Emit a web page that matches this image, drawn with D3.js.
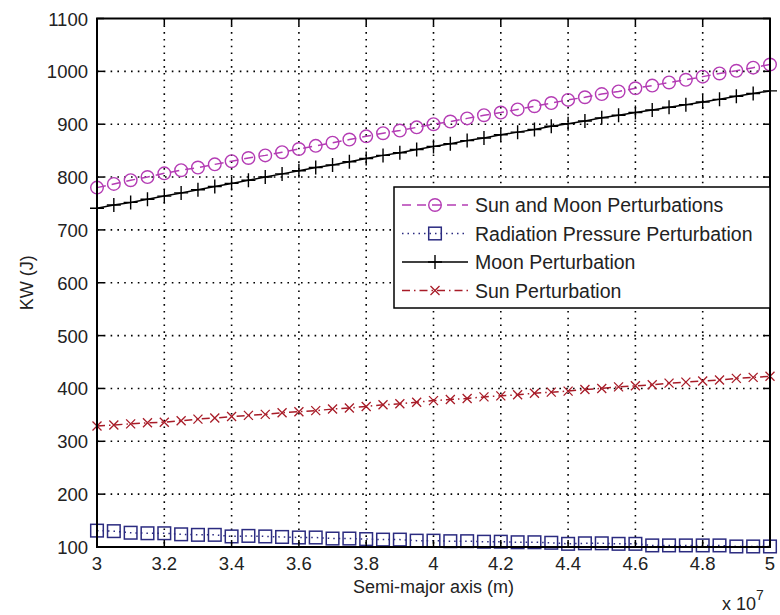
<!DOCTYPE html>
<html>
<head>
<meta charset="utf-8">
<script src="https://cdn.jsdelivr.net/npm/d3@7"></script>
<style>
    body { margin: 0; background: #fff; }
    text { font-family: "Liberation Sans", Arial, sans-serif; fill: #222; }
    .grid line { stroke: #000; stroke-width: 1.6; stroke-dasharray: 1.6,5.2; }
</style>
</head>
<body>
<svg id="chart" width="780" height="615"></svg>
<script>
// semi-major axis, in units of 1e7 m
const semiMajor = [3.00, 3.05, 3.10, 3.15, 3.20, 3.25, 3.30, 3.35, 3.40, 3.45,
                   3.50, 3.55, 3.60, 3.65, 3.70, 3.75, 3.80, 3.85, 3.90, 3.95,
                   4.00, 4.05, 4.10, 4.15, 4.20, 4.25, 4.30, 4.35, 4.40, 4.45,
                   4.50, 4.55, 4.60, 4.65, 4.70, 4.75, 4.80, 4.85, 4.90, 4.95, 5.00];

const sunMoon = [780, 787, 794, 800, 807, 813, 818, 824, 830, 836,
                 841, 847, 853, 859, 865, 871, 877, 883, 888, 894,
                 900, 905, 911, 917, 922, 928, 934, 940, 946, 951,
                 957, 962, 968, 973, 979, 984, 990, 996, 1001, 1007, 1013];

const radiation = [131, 130, 127, 126, 126, 124, 123, 123, 120, 121,
                   120, 119, 118, 118, 116, 116, 115, 114, 114, 112,
                   112, 111, 111, 110, 110, 109, 109, 108, 106, 107,
                   107, 106, 106, 103, 103, 103, 103, 103, 101, 101, 101];

const moon = [741, 747, 752, 758, 764, 770, 776, 782, 788, 794,
              800, 806, 812, 818, 823, 829, 835, 841, 846, 852,
              858, 863, 869, 874, 880, 885, 890, 896, 901, 906,
              912, 917, 922, 927, 932, 937, 942, 947, 953, 958, 963];

const sun = [329, 331, 333, 335, 336, 339, 342, 344, 347, 349,
             351, 354, 356, 358, 361, 363, 366, 369, 371, 374,
             377, 379, 381, 384, 386, 388, 391, 393, 395, 398,
             400, 403, 405, 407, 410, 412, 414, 416, 419, 421, 423];

const xTicks = [3, 3.2, 3.4, 3.6, 3.8, 4, 4.2, 4.4, 4.6, 4.8, 5];
const yTicks = [100, 200, 300, 400, 500, 600, 700, 800, 900, 1000, 1100];

const seriesNames = ["Sun and Moon Perturbations", "Radiation Pressure Perturbation",
                     "Moon Perturbation", "Sun Perturbation"];

/////////////////////////////////////////////////////////////////////

var svg = d3.select("#chart");
var pLeft = 97, pRight = 770, pTop = 18.5, pBottom = 547;

var xScale = d3.scaleLinear([3, 5], [pLeft, pRight]);
var yScale = d3.scaleLinear([100, 1100], [pBottom, pTop]);

var series = [
    {name: seriesNames[0], vals: sunMoon,   color: "#b43cb4", dash: "9,6",        marker: "circle"},
    {name: seriesNames[1], vals: radiation, color: "#2b2b80", dash: "1.5,4",      marker: "square"},
    {name: seriesNames[2], vals: moon,      color: "#000000", dash: null,         marker: "plus"},
    {name: seriesNames[3], vals: sun,       color: "#a81c28", dash: "8,4,1.5,4",  marker: "x"}
];

// grid
var grid = svg.append("g").attr("class", "grid");
xTicks.slice(1, -1).forEach(function(t) {
    grid.append("line")
        .attr("x1", xScale(t)).attr("x2", xScale(t))
        .attr("y1", pTop).attr("y2", pBottom);
});
yTicks.slice(1, -1).forEach(function(t) {
    grid.append("line")
        .attr("x1", pLeft).attr("x2", pRight)
        .attr("y1", yScale(t)).attr("y2", yScale(t));
});

function drawMarker(g, type, x, y, color) {
    if (type == "circle") {
        g.append("circle").attr("cx", x).attr("cy", y).attr("r", 6.3)
            .attr("fill", "none").attr("stroke", color).attr("stroke-width", 1.4);
    } else if (type == "square") {
        g.append("rect").attr("x", x-6.3).attr("y", y-6.3)
            .attr("width", 12.6).attr("height", 12.6)
            .attr("fill", "none").attr("stroke", color).attr("stroke-width", 1.5);
    } else if (type == "plus") {
        g.append("path").attr("d", "M" + (x-7) + "," + y + "H" + (x+7) + "M" + x + "," + (y-7) + "V" + (y+7))
            .attr("stroke", color).attr("stroke-width", 1.4);
    } else {
        var s = 4.5;
        g.append("path").attr("d", "M" + (x-s) + "," + (y-s) + "L" + (x+s) + "," + (y+s) +
                                   "M" + (x-s) + "," + (y+s) + "L" + (x+s) + "," + (y-s))
            .attr("stroke", color).attr("stroke-width", 1.3);
    }
}

var line = d3.line()
    .x((d, i) => xScale(semiMajor[i]))
    .y(d => yScale(d));

series.forEach(function(s) {
    var g = svg.append("g");
    g.append("path")
        .attr("d", line(s.vals))
        .attr("fill", "none")
        .attr("stroke", s.color)
        .attr("stroke-width", 1.5)
        .attr("stroke-dasharray", s.dash);
    s.vals.forEach(function(v, i) {
        drawMarker(g, s.marker, xScale(semiMajor[i]), yScale(v), s.color);
    });
});

// axes box with inward ticks
var tickLen = 7;
var ax = svg.append("g");
ax.append("rect")
    .attr("x", pLeft).attr("y", pTop)
    .attr("width", pRight-pLeft).attr("height", pBottom-pTop)
    .attr("fill", "none").attr("stroke", "#000").attr("stroke-width", 2);
xTicks.forEach(function(t) {
    ax.append("line").attr("x1", xScale(t)).attr("x2", xScale(t))
        .attr("y1", pBottom).attr("y2", pBottom-tickLen).attr("stroke", "#000").attr("stroke-width", 1.5);
    ax.append("line").attr("x1", xScale(t)).attr("x2", xScale(t))
        .attr("y1", pTop).attr("y2", pTop+tickLen).attr("stroke", "#000").attr("stroke-width", 1.5);
    ax.append("text")
        .text(t)
        .attr("x", xScale(t)).attr("y", pBottom + 23)
        .attr("text-anchor", "middle")
        .attr("font-size", 18.5);
});
yTicks.forEach(function(t) {
    ax.append("line").attr("x1", pLeft).attr("x2", pLeft+tickLen)
        .attr("y1", yScale(t)).attr("y2", yScale(t)).attr("stroke", "#000").attr("stroke-width", 1.5);
    ax.append("line").attr("x1", pRight).attr("x2", pRight-tickLen)
        .attr("y1", yScale(t)).attr("y2", yScale(t)).attr("stroke", "#000").attr("stroke-width", 1.5);
    ax.append("text")
        .text(t)
        .attr("x", pLeft - 9).attr("y", yScale(t))
        .attr("dy", 7)
        .attr("text-anchor", "end")
        .attr("font-size", 18.5);
});

svg.append("text")
    .text("Semi-major axis (m)")
    .attr("x", (pLeft+pRight)/2).attr("y", 593)
    .attr("text-anchor", "middle")
    .attr("font-size", 18);

svg.append("text")
    .text("KW (J)")
    .attr("transform", "translate(33," + ((pTop+pBottom)/2) + ") rotate(-90)")
    .attr("text-anchor", "middle")
    .attr("font-size", 18);

var expo = svg.append("text")
    .attr("x", 722).attr("y", 610)
    .attr("font-size", 18);
expo.append("tspan").text("x 10");
expo.append("tspan").text("7").attr("dy", -10).attr("font-size", 14);

// legend
var leg = svg.append("g");
leg.append("rect")
    .attr("x", 394).attr("y", 187)
    .attr("width", pRight-394).attr("height", 121)
    .attr("fill", "#fff").attr("stroke", "#000").attr("stroke-width", 1.5);
series.forEach(function(s, i) {
    var y = 205 + i*28.5;
    leg.append("line")
        .attr("x1", 402).attr("x2", 468)
        .attr("y1", y).attr("y2", y)
        .attr("stroke", s.color).attr("stroke-width", 1.5)
        .attr("stroke-dasharray", s.dash);
    drawMarker(leg, s.marker, 435, y, s.color);
    leg.append("text")
        .text(s.name)
        .attr("x", 475).attr("y", y)
        .attr("dy", 7)
        .attr("font-size", 19.5);
});
</script>
</body>
</html>
